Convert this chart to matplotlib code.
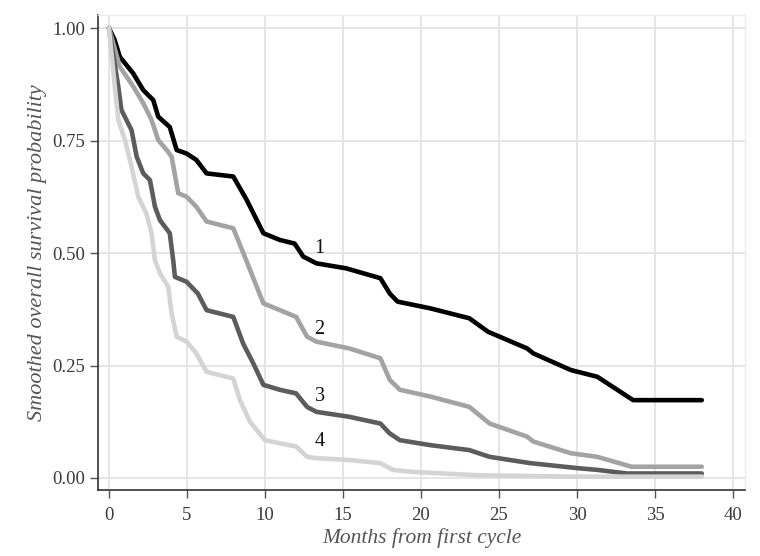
import matplotlib
matplotlib.use("Agg")
import matplotlib.pyplot as plt

# ---- data ----
x1 = [0, 0.35, 0.7, 1.56, 2.2, 2.84, 3.16, 3.9, 4.34, 4.98, 5.6, 6.26, 7.97, 8.83, 9.9, 10.96,
      11.9, 12.46, 13.3, 15.2, 17.4, 18.0, 18.5, 20.6, 23.1, 24.3, 26.8, 27.2, 29.6, 31.3, 33.6, 38.0]
y1 = [1.0, 0.975, 0.936, 0.899, 0.862, 0.84, 0.803, 0.78, 0.729, 0.721, 0.707, 0.677, 0.67, 0.618, 0.544, 0.529,
      0.521, 0.492, 0.477, 0.466, 0.444, 0.41, 0.392, 0.377, 0.355, 0.325, 0.288, 0.277, 0.24, 0.225, 0.173, 0.173]

x2 = [0, 0.7, 1.56, 2.2, 2.73, 3.16, 3.7, 4.02, 4.44, 4.98, 5.6, 6.26, 7.97, 8.8, 9.9, 10.96,
      12.0, 12.7, 13.3, 15.4, 17.4, 18.0, 18.65, 20.6, 23.1, 24.4, 26.8, 27.2, 29.6, 31.3, 33.5, 38.0]
y2 = [1.0, 0.914, 0.87, 0.833, 0.796, 0.751, 0.729, 0.714, 0.633, 0.625, 0.603, 0.57, 0.555, 0.484, 0.388, 0.373,
      0.358, 0.314, 0.303, 0.288, 0.266, 0.218, 0.196, 0.181, 0.158, 0.121, 0.092, 0.081, 0.055, 0.047, 0.025, 0.025]

x3 = [0, 0.6, 0.8, 1.45, 1.78, 2.2, 2.63, 2.95, 3.27, 3.9, 4.12, 4.23, 4.98, 5.7, 6.26, 7.97, 8.6, 9.25, 9.9, 10.96,
      12.0, 12.7, 13.3, 15.4, 17.4, 18.0, 18.65, 20.6, 23.1, 24.4, 27.0, 30.0, 31.3, 33.2, 38.0]
y3 = [1.0, 0.87, 0.818, 0.773, 0.714, 0.677, 0.662, 0.603, 0.573, 0.544, 0.484, 0.447, 0.436, 0.41, 0.373, 0.358, 0.299, 0.255, 0.207, 0.196,
      0.188, 0.158, 0.147, 0.136, 0.121, 0.099, 0.084, 0.073, 0.062, 0.047, 0.033, 0.022, 0.018, 0.010, 0.010]

x4 = [0, 0.38, 0.6, 1.03, 1.45, 1.88, 2.4, 2.73, 2.95, 3.27, 3.8, 4.02, 4.34, 4.98, 5.6, 6.26, 7.97, 8.4, 9.04, 10.0, 10.96,
      12.0, 12.7, 13.3, 15.4, 17.4, 18.2, 19.3, 23.1, 23.8, 29.6, 38.0]
y4 = [1.0, 0.87, 0.796, 0.751, 0.692, 0.625, 0.588, 0.544, 0.484, 0.455, 0.425, 0.366, 0.314, 0.303, 0.277, 0.236, 0.221, 0.173, 0.125, 0.084, 0.077,
      0.07, 0.047, 0.044, 0.04, 0.033, 0.018, 0.014, 0.007, 0.006, 0.003, 0.003]

series_labels = ["1", "2", "3", "4"]
label_x = [13.5, 13.5, 13.5, 13.5]
label_y = [0.51, 0.329, 0.181, 0.081]

x_ticks = [0, 5, 10, 15, 20, 25, 30, 35, 40]
y_ticks = [0.0, 0.25, 0.5, 0.75, 1.0]
y_tick_labels = ["0.00", "0.25", "0.50", "0.75", "1.00"]

colors = ["#000000", "#a3a3a3", "#5c5c5c", "#d4d4d4"]

plt.rcParams['font.family'] = ['Liberation Serif', 'DejaVu Serif']

fig = plt.figure(figsize=(7.6, 5.56), dpi=100)
ax = fig.add_axes([98/760, 66/556, (745-98)/760, (490-15)/556])

for xs, ys, c in zip([x1, x2, x3, x4], [y1, y2, y3, y4], colors):
    ax.plot(xs, ys, color=c, lw=3.3, solid_joinstyle='round', solid_capstyle='round', zorder=3)

for t, lx, ly in zip(series_labels, label_x, label_y):
    ax.text(lx, ly, t, fontsize=14.5, color='#111111', ha='center', va='center', zorder=4)

ax.set_xlim(-0.7, 40.77)
ax.set_ylim(-0.0267, 1.029)
ax.set_xticks(x_ticks)
ax.set_yticks(y_ticks)
ax.set_yticklabels(y_tick_labels)
ax.grid(True, color='#e3e3e3', lw=1.3, zorder=0)
ax.set_axisbelow(True)

for s in ['top', 'right']:
    ax.spines[s].set_color('#ececec')
    ax.spines[s].set_linewidth(1.0)
for s in ['left', 'bottom']:
    ax.spines[s].set_color('#333333')
    ax.spines[s].set_linewidth(1.2)

ax.tick_params(axis='both', direction='out', length=6, width=1.0, color='#555555',
               labelsize=13.5, labelcolor='#3a3a3a')
ax.tick_params(axis='x', pad=6)
ax.tick_params(axis='y', pad=3)

ax.set_xlabel("Months from first cycle", fontsize=15.5, style='italic', color='#555555', labelpad=3)
ax.set_ylabel("Smoothed overall survival probability", fontsize=16, style='italic', color='#555555', labelpad=4)

fig.savefig("out.png", dpi=100, facecolor='white')
